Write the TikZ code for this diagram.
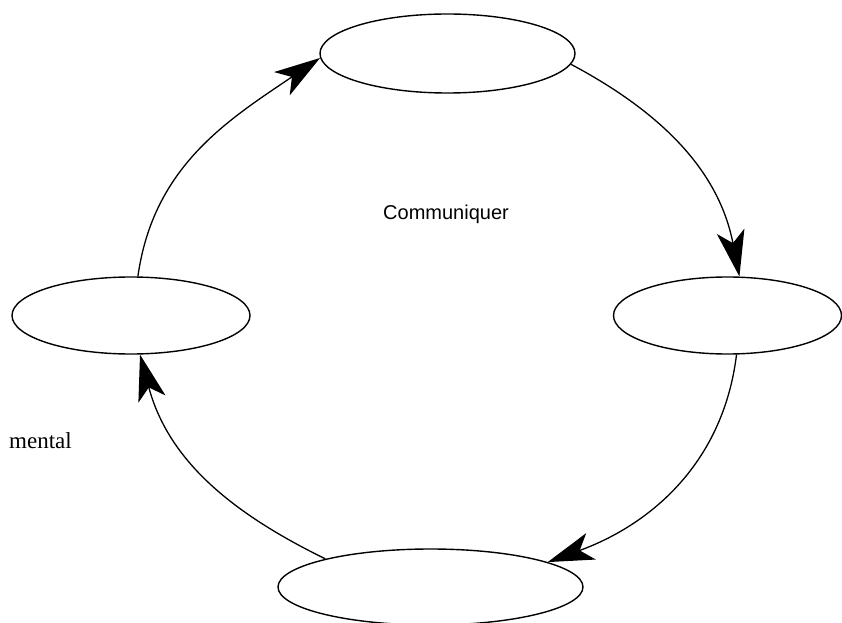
\documentclass[tikz,border=0pt]{standalone}
\usepackage{fontspec}
\setmainfont{Liberation Serif}
\newfontfamily\arialfont{Liberation Sans}
\usetikzlibrary{shapes.geometric,arrows.meta}
\begin{document}
\begin{tikzpicture}[x=1pt,y=1pt,
  state/.style={draw,ellipse,line width=1.4pt,inner sep=0pt},
  flow/.style={line width=1.3pt,-{Stealth[length=46pt,width=28pt,inset=12pt]}}]
\useasboundingbox (0,0) rectangle (842,622);
\node[state,minimum width=255pt,minimum height=79pt] (T) at (447.5,568.5) {};
\node[state,minimum width=228pt,minimum height=77pt] (R) at (727.5,306.5) {};
\node[state,minimum width=238pt,minimum height=77pt] (L) at (131,306.5) {};
\node[state,minimum width=305pt,minimum height=76pt] (B) at (430.5,35) {};
\node[font=\arialfont\fontsize{20}{24}\selectfont] (C) at (446,408) {Communiquer};
\node[font=\fontsize{23}{27}\selectfont,anchor=east,inner sep=0pt] (M) at (72,181) {mental};
\draw[flow] (L.80) to[out=82,in=214] (T.182);
\draw[flow] (T.-5) to[out=-28,in=101] (R.73);
\draw[flow] (R.-77) to[out=-97,in=20] (B.12);
\draw[flow] (B.165) to[out=154,in=285] (L.-77);
\end{tikzpicture}
\end{document}
